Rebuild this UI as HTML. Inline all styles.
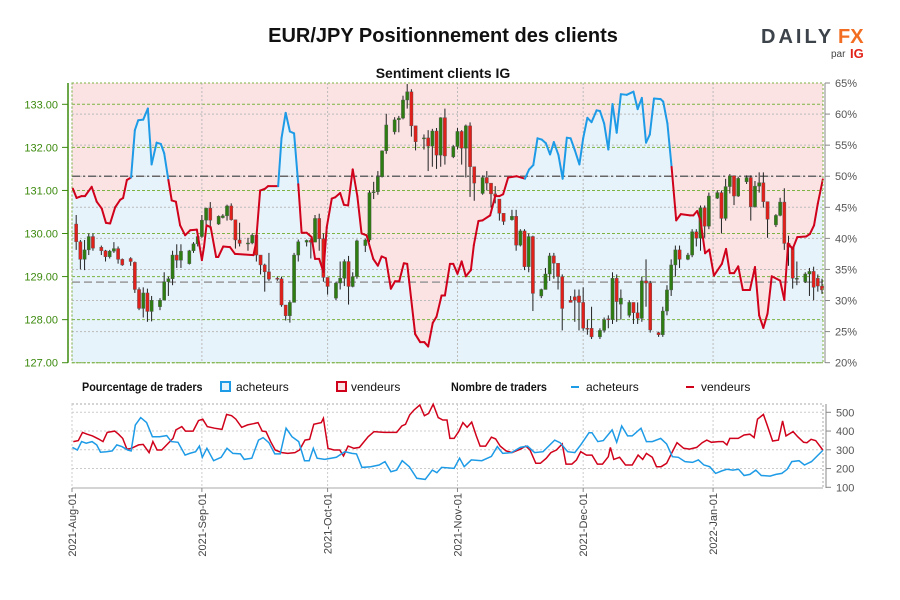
<!DOCTYPE html>
<html><head><meta charset="utf-8"><style>
body{margin:0;background:#fff;}
svg{display:block;font-family:"Liberation Sans",sans-serif;}
</style></head><body>
<svg id="chart" width="900" height="600" viewBox="0 0 900 600" xmlns="http://www.w3.org/2000/svg">
<text x="443" y="42" text-anchor="middle" font-size="20" font-weight="bold" fill="#111">EUR/JPY Positionnement des clients</text>
<g>
<text x="761" y="43" font-size="20" font-weight="bold" fill="#3d434a" letter-spacing="3">DAILY</text>
<text x="838" y="43" font-size="20" font-weight="bold" fill="#f26d21">FX</text>
<text x="831" y="57" font-size="10" fill="#444">par</text>
<text x="850" y="58" font-size="13" font-weight="bold" fill="#e2231a">IG</text>
</g>
<text x="443" y="78" text-anchor="middle" font-size="14" font-weight="bold" fill="#111">Sentiment clients IG</text>
<g id="main"></g>
<g font-size="12" fill="#111">
<text x="82" y="391" font-weight="bold" transform="translate(82 0) scale(0.9 1) translate(-82 0)">Pourcentage de traders</text>
<rect x="221" y="382" width="9" height="9" fill="#e6f3fb" stroke="#1e9be6" stroke-width="2"/>
<text x="236" y="391">acheteurs</text>
<rect x="337" y="382" width="9" height="9" fill="#fbe3e4" stroke="#d0021b" stroke-width="2"/>
<text x="351" y="391">vendeurs</text>
<text x="451" y="391" font-weight="bold" transform="translate(451 0) scale(0.9 1) translate(-451 0)">Nombre de traders</text>
<line x1="571" y1="387" x2="579" y2="387" stroke="#1e9be6" stroke-width="2"/>
<text x="586" y="391">acheteurs</text>
<line x1="686" y1="387" x2="694" y2="387" stroke="#d0021b" stroke-width="2"/>
<text x="701" y="391">vendeurs</text>
</g>
<g id="bottom"></g>
</svg>
<script>
// ---- data ----
const monthLabels = ["2021-Aug-01","2021-Sep-01","2021-Oct-01","2021-Nov-01","2021-Dec-01","2022-Jan-01"];
const monthDays = [0,31,61,92,122,153];
const priceTicks = [127,128,129,130,131,132,133];
const pctTicks = [20,25,30,35,40,45,50,55,60,65];
const countTicks = [100,200,300,400,500];

const sentDay = [0.2,1.1,2.3,3.1,4.7,5.9,7.1,8.1,9.1,10.3,11.5,12.2,13.1,14.1,15.0,15.8,17.0,18.1,19.0,20.2,21.2,22.0,23.0,23.8,24.8,25.8,27.0,28.2,29.8,31.0,31.5,32.1,33.1,34.4,34.9,36.1,37.7,38.9,43.3,43.9,44.9,46.1,46.8,49.2,50.0,51.0,52.0,53.0,54.0,54.8,56.0,57.2,58.0,59.0,60.0,60.8,62.0,62.8,64.0,64.9,65.9,67.0,68.1,69.1,70.3,71.9,73.0,73.9,74.9,76.1,77.1,78.1,79.2,80.0,81.9,83.1,84.1,85.0,86.1,87.0,88.2,89.0,90.2,91.0,92.0,93.0,94.0,95.2,95.9,97.0,98.0,99.8,101.0,102.0,102.9,104.1,106.1,108.1,109.1,110.1,111.1,112.1,113.1,114.1,115.0,116.1,117.1,118.1,119.0,120.0,121.1,122.0,123.0,124.0,125.2,126.0,127.0,128.0,129.0,130.0,131.0,132.4,134.0,135.0,136.0,137.0,137.9,138.9,140.5,141.1,142.1,143.1,144.2,145.3,147.5,148.3,149.2,150.0,151.1,152.1,153.2,155.1,156.1,157.0,158.0,159.0,160.1,161.8,163.0,164.0,165.0,166.0,167.0,169.0,170.0,170.9,172.0,173.1,175.2,176.1,177.1,178.0,179.2];
const sentPct = [48.0,46.5,46.8,46.8,48.3,45.9,44.8,42.5,42.4,45.0,46.2,46.5,49.4,49.8,57.4,59.0,59.1,60.9,51.9,55.4,55.2,53.7,49.4,46.1,45.9,42.1,40.5,41.3,41.4,36.5,38.6,42.1,41.8,37.0,37.0,38.7,38.6,37.5,37.3,39.2,47.7,48.0,48.4,48.4,56.1,60.2,57.2,56.9,48.7,40.9,40.9,40.2,36.7,36.7,34.6,41.8,46.4,46.6,47.3,45.4,45.3,51.1,46.8,40.8,40.5,36.7,35.6,37.1,36.8,31.9,33.1,33.1,36.0,35.9,24.6,23.3,23.3,22.6,26.4,27.4,30.8,30.8,35.9,35.9,34.3,36.3,33.9,34.9,38.9,42.8,42.9,43.7,46.8,46.8,47.1,49.8,50.0,49.6,51.1,51.8,56.1,55.9,55.3,53.5,55.5,53.4,49.6,56.2,56.1,54.2,51.9,56.1,59.4,58.7,60.6,60.5,58.5,54.3,61.6,57.0,63.2,63.1,63.6,60.8,62.6,55.4,56.7,62.5,62.4,62.0,58.5,51.5,42.9,43.9,43.7,43.7,44.4,42.9,37.6,38.2,34.0,35.9,38.3,34.4,34.4,35.5,31.7,31.7,35.4,27.6,25.6,27.9,33.9,33.2,30.1,39.2,38.3,40.2,40.3,40.7,42.1,45.6,49.5];

const cDay = [1,2,3,4,5,7,8,9,10,11,12,14,15,16,17,18,19,21,22,23,24,25,26,28,29,30,31,32,33,35,36,37,38,39,40,42,43,44,45,46,47,49,50,51,52,53,54,56,57,58,59,60,61,63,64,65,66,67,68,70,71,72,73,74,75,77,78,79,80,81,82,84,85,86,87,88,89,91,92,93,94,95,96,98,99,100,101,102,103,105,106,107,108,109,110,112,113,114,115,116,117,119,120,121,122,123,124,126,127,128,129,130,131,133,134,135,136,137,138,140,141,142,143,144,145,147,148,149,150,151,152,154,155,156,157,158,159,161,162,163,164,165,166,168,169,170,171,172,173,175,176,177,178,179];
const cOpen = [130.22,129.81,129.40,129.62,129.93,129.68,129.60,129.46,129.59,129.65,129.40,129.42,129.33,128.70,128.26,128.62,128.19,128.30,128.45,128.88,128.95,129.50,129.38,129.30,129.60,129.76,129.93,130.31,130.59,130.22,130.37,130.41,130.64,130.32,129.85,129.76,129.78,129.96,129.50,129.27,129.11,128.96,128.95,128.34,128.09,128.40,129.50,129.80,129.84,129.80,130.35,129.88,128.98,128.50,128.85,128.96,129.35,128.77,129.00,129.72,129.85,130.95,130.97,131.32,131.92,132.36,132.64,132.68,133.10,133.29,132.50,132.20,132.22,132.03,132.38,131.82,132.69,131.78,132.02,132.37,131.98,132.50,131.55,130.93,131.30,131.17,130.92,130.80,130.47,130.32,130.40,129.73,130.06,129.23,129.93,128.55,128.70,129.06,129.48,129.31,129.00,128.45,128.53,128.55,128.40,127.80,127.80,127.60,127.75,128.02,128.00,128.96,128.36,128.10,128.40,128.16,128.03,128.90,128.85,127.70,127.65,128.20,128.69,129.27,129.62,129.40,129.50,130.04,129.89,130.60,130.17,130.82,130.95,130.35,131.09,131.34,130.87,131.20,131.30,130.62,131.10,131.18,130.74,130.20,130.42,130.73,129.77,129.68,128.96,128.88,129.06,129.12,128.96,128.78];
const cHigh = [130.43,129.85,129.85,130.00,130.00,129.72,129.62,129.62,129.80,129.70,129.42,129.45,129.35,128.75,128.75,128.72,128.55,128.50,129.10,129.00,129.60,129.75,129.75,129.62,129.80,130.00,130.43,130.60,130.73,130.42,130.45,130.67,130.70,130.32,130.25,129.90,130.00,130.00,129.50,129.30,129.55,129.00,129.00,128.34,128.45,129.55,129.86,129.86,129.89,130.43,130.46,130.00,128.98,128.88,129.35,129.40,129.48,129.10,129.86,129.88,131.00,131.20,131.45,131.93,132.78,132.70,132.73,133.20,133.47,133.35,132.50,132.30,132.40,132.43,132.45,132.70,132.90,132.05,132.45,132.40,132.53,132.58,131.55,131.35,131.45,131.17,131.10,130.80,130.47,130.55,130.55,130.10,130.10,130.00,129.95,128.72,129.20,129.55,129.55,129.31,129.05,128.55,128.70,128.70,128.75,128.00,128.30,127.80,128.05,128.10,129.10,129.05,128.70,128.45,128.40,128.40,129.00,129.40,128.90,127.72,128.30,128.80,129.40,129.72,129.72,129.55,130.10,130.10,130.65,130.65,130.95,131.00,131.00,131.27,131.38,131.35,131.32,131.35,131.35,131.22,131.42,131.42,130.74,130.45,130.83,131.05,129.95,129.70,129.35,129.10,129.20,129.23,129.05,128.95];
const cLow = [129.62,129.17,129.15,129.50,129.60,129.50,129.35,129.42,129.55,129.30,129.25,129.25,128.62,128.22,128.05,127.95,127.96,128.22,128.45,128.55,128.80,129.20,129.20,129.28,129.55,129.70,129.90,130.20,130.10,130.20,130.35,130.30,130.30,129.65,129.70,129.60,129.75,129.35,129.05,128.65,128.90,128.90,128.30,127.98,127.93,128.40,129.35,129.70,129.42,129.80,129.60,128.88,128.58,128.45,128.70,128.78,128.35,128.75,128.95,129.57,129.80,130.80,130.90,131.30,131.85,132.30,132.35,132.65,132.90,132.25,131.93,131.95,131.45,131.55,131.50,131.55,131.60,131.75,131.95,131.60,131.30,130.85,130.76,130.90,131.00,130.60,130.70,130.30,130.20,130.30,129.60,129.70,129.15,129.10,128.20,128.50,128.70,128.90,128.95,128.70,127.75,128.40,127.95,127.75,127.74,127.65,127.55,127.55,127.70,127.80,127.90,127.95,128.00,128.05,127.90,127.90,127.95,128.30,127.70,127.60,127.60,128.10,128.55,129.00,129.20,129.38,129.45,129.70,129.60,129.90,130.10,130.80,130.00,130.30,130.93,130.66,130.85,131.15,130.30,130.60,130.95,130.60,129.90,130.15,130.40,129.62,129.25,128.72,128.80,128.85,128.55,128.45,128.65,128.60];
const cClose = [129.81,129.40,129.62,129.93,129.66,129.60,129.46,129.59,129.65,129.40,129.27,129.35,128.70,128.26,128.62,128.19,128.45,128.45,128.88,128.95,129.50,129.38,129.59,129.60,129.76,129.93,130.31,130.59,130.31,130.40,130.41,130.64,130.32,129.85,129.77,129.78,129.96,129.50,129.27,129.11,128.94,128.95,128.34,128.09,128.40,129.50,129.81,129.84,129.80,130.35,129.88,128.98,128.77,128.85,128.96,129.35,128.77,129.00,129.83,129.85,130.95,130.97,131.32,131.92,132.52,132.64,132.68,133.10,133.29,132.50,132.13,132.22,132.03,132.38,131.82,132.69,131.80,132.02,132.37,131.98,132.50,131.55,131.17,131.30,131.17,130.92,130.87,130.47,130.28,130.40,129.73,130.06,129.23,129.93,128.61,128.70,129.06,129.48,129.31,129.00,128.26,128.40,128.45,128.40,127.80,127.78,127.60,127.75,128.00,128.00,128.96,128.42,128.50,128.40,128.16,128.03,128.90,128.85,127.76,127.65,128.20,128.69,129.27,129.62,129.40,129.50,130.04,129.89,130.60,130.17,130.87,130.95,130.35,131.09,131.34,130.87,131.28,131.30,130.62,131.10,131.18,130.74,130.33,130.42,130.73,129.77,129.68,128.96,128.96,129.06,129.12,128.75,128.78,128.69];

const buyDay = [0.1,1.3,2.3,3.4,4.8,5.9,6.8,8.2,9.6,10.7,11.9,13.3,14.1,15.1,16.4,17.8,19.2,20.9,22.6,23.7,25.3,27.0,28.1,29.5,30.4,31.1,32.2,33.8,35.6,37.0,38.4,40.2,41.1,42.9,44.5,45.6,47.0,48.4,49.7,51.1,52.5,54.1,55.5,56.6,57.6,58.5,60.3,63.1,65.1,66.8,67.9,69.2,71.3,73.3,74.7,76.1,77.5,78.8,80.5,82.3,84.3,86.0,87.1,88.2,91.2,92.5,93.6,95.3,97.8,100.1,101.5,102.8,104.9,107.0,108.7,110.4,112.4,115.2,116.5,118.3,120.0,121.4,123.4,124.1,125.5,126.8,128.9,130.0,131.2,132.6,133.7,135.8,137.1,138.5,140.5,141.9,143.3,144.7,146.3,148.1,149.5,150.8,152.2,153.6,155.0,156.3,157.7,159.1,160.4,161.8,163.2,164.5,166.6,168.0,169.4,170.7,171.8,173.5,174.8,176.5,179.2];
const buyCount = [313,299,344,335,344,326,287,290,294,326,317,299,294,432,472,445,370,370,376,344,340,272,281,290,320,260,308,242,260,308,281,278,249,255,352,365,338,278,278,415,370,344,242,242,308,255,249,260,290,281,278,206,210,219,237,183,192,242,210,148,142,192,178,206,201,255,210,246,242,265,317,281,285,313,320,285,290,352,338,290,285,326,391,391,344,349,406,340,427,374,374,415,344,344,361,331,263,260,237,233,246,219,210,174,187,196,192,196,163,169,192,163,160,169,174,196,237,242,219,237,297];
const sellDay = [0.3,1.5,2.5,3.6,4.9,6.3,7.4,8.4,10.2,11.1,12.1,13.1,14.2,15.9,17.0,18.4,19.3,20.3,21.4,24.1,24.8,26.2,27.1,28.9,30.2,31.2,32.3,34.0,35.8,36.9,38.1,39.1,40.5,41.9,43.3,44.4,45.4,46.3,47.4,48.5,50.1,51.5,53.2,54.3,55.6,56.7,57.7,59.5,60.0,61.1,62.5,63.9,64.8,65.9,67.3,68.6,70.7,72.1,74.5,77.5,78.7,79.6,80.6,81.6,83.0,84.1,85.1,86.2,87.4,88.5,89.5,90.2,91.2,92.3,93.3,94.3,95.4,96.5,97.4,98.7,100.1,101.1,102.2,103.6,105.0,107.0,108.3,109.3,110.7,111.8,113.2,114.3,115.6,117.0,117.9,119.3,120.4,121.4,122.8,124.1,125.4,126.6,128.0,128.5,129.3,130.7,132.1,133.7,135.1,136.2,137.1,138.5,139.5,140.6,141.9,143.3,144.4,146.0,147.4,149.1,150.4,151.5,152.6,154.3,155.4,156.3,157.0,159.0,160.4,161.8,162.8,163.6,165.0,165.9,167.2,168.6,169.6,170.4,172.1,173.2,174.6,175.4,176.4,177.5,179.2];
const sellCount = [344,349,393,383,374,358,344,393,400,383,361,303,308,326,329,285,344,299,299,361,406,424,400,400,456,463,424,415,409,489,482,464,420,433,439,445,400,397,344,299,285,281,285,299,352,356,436,445,468,308,299,299,267,320,308,313,370,397,393,393,427,436,486,512,539,482,494,543,472,459,459,361,361,397,445,420,448,374,320,320,367,358,320,294,285,303,320,299,228,228,255,285,299,331,224,224,246,290,272,272,224,224,263,313,249,260,219,219,272,249,281,260,210,210,228,290,338,308,304,313,338,352,340,344,344,326,361,361,379,383,365,463,489,433,347,352,454,374,397,370,340,338,356,349,299];
const priceLineLevel = 128.87;

// ---- scales ----
const X0=72, X1=823, PT=83, PB=362.7, BT=404, BB=488;
const xDay = d => X0 + d*4.19;
const yPrice = p => 104.3 + (133-p)*43.07;
const yPct = v => 83 + (65-v)*6.215;
const yCnt = v => 412.3 + (500-v)*0.1875;
const NS="http://www.w3.org/2000/svg";
function mk(parent, tag, attrs){const e=document.createElementNS(NS,tag);for(const k in attrs)e.setAttribute(k,attrs[k]);parent.appendChild(e);return e;}
const main=document.getElementById('main');
const bottom=document.getElementById('bottom');

// backgrounds
let bg=mk(main,'rect',{x:X0,y:PT,width:X1-X0,height:PB-PT,fill:'#fbe3e4'});


let fillPts=sentDay.map((d,i)=>xDay(d).toFixed(1)+','+yPct(sentPct[i]).toFixed(1));
fillPts.push(xDay(sentDay[sentDay.length-1]).toFixed(1)+','+PB, X0+','+PB, X0+','+yPct(sentPct[0]).toFixed(1));
let bfill=mk(main,'polygon',{points:fillPts.join(' '),fill:'#e6f3fb'});



// grid
pctTicks.forEach(v=>{
  const g=mk(main,'line',{x1:X0,x2:X1,y1:yPct(v),y2:yPct(v),stroke:'#bbb','stroke-width':1,'stroke-dasharray':'2,2'});
  
  
  const t=mk(main,'text',{x:X1+12,y:yPct(v)+4,'font-size':11,fill:'#555'});t.textContent=v+'%';
  
  
  mk(main,'line',{x1:X1+2,x2:X1+7,y1:yPct(v),y2:yPct(v),stroke:'#888'});
});
priceTicks.forEach(p=>{
  const g=mk(main,'line',{x1:X0,x2:X1,y1:yPrice(p),y2:yPrice(p),stroke:'#7cb342','stroke-width':1,'stroke-dasharray':'3,2'});
  
  
  const t=mk(main,'text',{x:58,y:yPrice(p)+4,'font-size':11,fill:'#3c8a0e','text-anchor':'end'});t.textContent=p.toFixed(2);
  
  
  mk(main,'line',{x1:62,x2:68,y1:yPrice(p),y2:yPrice(p),stroke:'#3c8a0e'});
});
mk(main,'line',{x1:68,x2:68,y1:PT,y2:PB,stroke:'#3c8a0e','stroke-width':1.5});
mk(main,'line',{x1:X1+2,x2:X1+2,y1:PT,y2:PB,stroke:'#888','stroke-width':1});
monthDays.forEach(d=>{
  const g=mk(main,'line',{x1:xDay(d),x2:xDay(d),y1:PT,y2:PB,stroke:'#bbb','stroke-dasharray':'2,2'});
  
  
});
let l50=mk(main,'line',{x1:X0,x2:X1,y1:yPct(50),y2:yPct(50),stroke:'#666','stroke-width':1.5,'stroke-dasharray':'8,3,2,3'});


let lp=mk(main,'line',{x1:X0,x2:X1,y1:yPrice(priceLineLevel),y2:yPrice(priceLineLevel),stroke:'#999','stroke-width':1.5,'stroke-dasharray':'8,4'});



// candles
cDay.forEach((d,i)=>{
  const x=xDay(d), up=cClose[i]>=cOpen[i];
  const w=mk(main,'line',{x1:x,x2:x,y1:yPrice(cHigh[i]),y2:yPrice(cLow[i]),stroke:'#222','stroke-width':1});
  
  
  const top=yPrice(Math.max(cOpen[i],cClose[i])), h=Math.max(1,Math.abs(yPrice(cOpen[i])-yPrice(cClose[i])));
  const b=mk(main,'rect',{x:x-1.6,y:top,width:3.2,height:h,fill:up?'#2e7d12':'#e0201b',stroke:'#555','stroke-width':0.4});
  
  
});

// sentiment line
for(let i=0;i<sentDay.length-1;i++){
  const avg=(sentPct[i]+sentPct[i+1])/2;
  const s=mk(main,'line',{x1:xDay(sentDay[i]),y1:yPct(sentPct[i]),x2:xDay(sentDay[i+1]),y2:yPct(sentPct[i+1]),stroke:avg>50?'#1e9be6':'#d0021b','stroke-width':2,'stroke-linecap':'round'});
  
  
}
mk(main,'rect',{x:X0,y:PT,width:X1-X0,height:PB-PT,fill:'none',stroke:'#7cb342','stroke-dasharray':'2,2'});

// bottom chart
let bb=mk(bottom,'rect',{x:X0,y:BT,width:X1-X0,height:BB-BT,fill:'#fff',stroke:'#aaa','stroke-dasharray':'2,2'});


countTicks.forEach(v=>{
  if(v>100){const g=mk(bottom,'line',{x1:X0,x2:X1,y1:yCnt(v),y2:yCnt(v),stroke:'#ccc','stroke-dasharray':'2,2'});
  
  }
  const t=mk(bottom,'text',{x:X1+13,y:yCnt(v)+4,'font-size':11,fill:'#555'});t.textContent=v;
  
  
  mk(bottom,'line',{x1:X1+3,x2:X1+8,y1:yCnt(v),y2:yCnt(v),stroke:'#888'});
});
mk(bottom,'line',{x1:X1+3,x2:X1+3,y1:BT,y2:BB,stroke:'#888'});
mk(bottom,'line',{x1:X0,x2:X1,y1:BB,y2:BB,stroke:'#aaa'});
monthDays.forEach((d,i)=>{
  const g=mk(bottom,'line',{x1:xDay(d),x2:xDay(d),y1:BT,y2:BB,stroke:'#ccc','stroke-dasharray':'2,2'});
  
  
  mk(bottom,'line',{x1:xDay(d),x2:xDay(d),y1:BB,y2:BB+4,stroke:'#888'});
  const t=mk(bottom,'text',{x:0,y:0,'font-size':11,fill:'#444','text-anchor':'end',transform:'translate('+(xDay(d)+4)+' '+(BB+5)+') rotate(-90)'});
  t.textContent=monthLabels[i];
  
  
});
let sp=mk(bottom,'polyline',{points:sellDay.map((d,i)=>xDay(d).toFixed(1)+','+yCnt(sellCount[i]).toFixed(1)).join(' '),fill:'none',stroke:'#d0021b','stroke-width':1.5});


let bp=mk(bottom,'polyline',{points:buyDay.map((d,i)=>xDay(d).toFixed(1)+','+yCnt(buyCount[i]).toFixed(1)).join(' '),fill:'none',stroke:'#1e9be6','stroke-width':1.5});


</script>
</body></html>
